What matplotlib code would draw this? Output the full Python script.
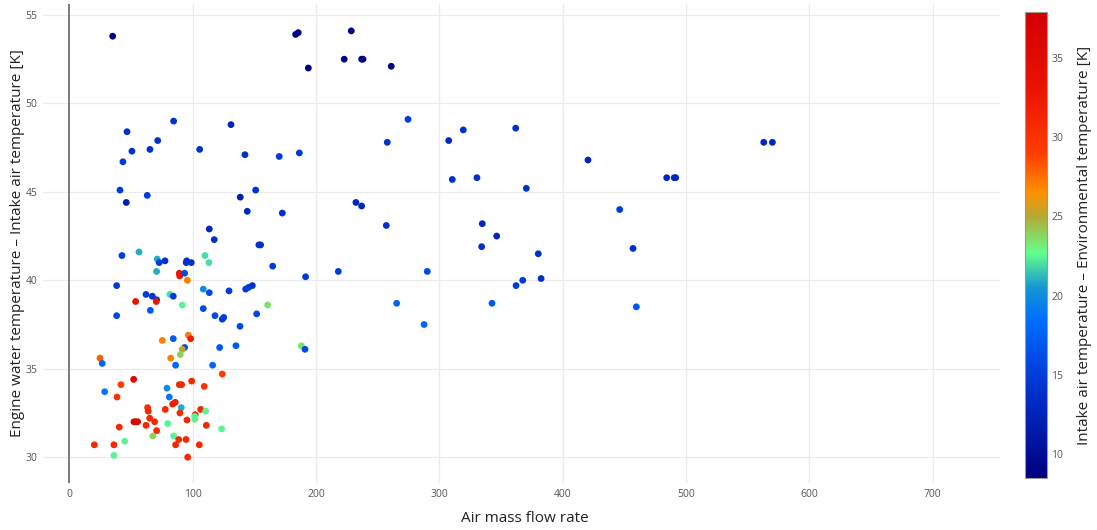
import numpy as np
import matplotlib
matplotlib.use('Agg')
import matplotlib.pyplot as plt
from matplotlib.colors import LinearSegmentedColormap

plt.rcParams['font.family'] = ['Open Sans', 'DejaVu Sans']

# Air mass flow rate
air_flow = [35.3, 84.7, 46.9, 71.8, 50.9, 65.5, 43.6, 105.8, 131.2, 142.5,
            41.2, 63.3, 46.3, 138.7, 151.2, 144.4, 113.6, 117.6, 153.8, 155.2,
            56.6, 42.8, 71.4, 73.0, 77.7, 95.3, 94.9, 99.0, 110.1, 113.3,
            70.9, 89.3, 89.6, 93.6, 95.8, 38.5, 62.3, 67.4, 70.9, 70.6,
            53.9, 81.7, 84.4, 91.7, 108.7, 113.6, 129.6, 143.1, 145.5, 148.5,
            152.0, 38.5, 65.8, 108.7, 118.2, 124.1, 125.3, 138.5, 96.6, 98.5,
            75.5, 84.4, 93.6, 122.0, 135.2, 25.0, 26.8, 91.7, 82.3, 90.1,
            86.3, 116.3, 124.1, 52.3, 42.0, 89.3, 91.2, 99.3, 109.5, 28.8,
            38.8, 79.3, 81.2, 83.9, 86.0, 63.6, 64.1, 77.9, 90.9, 89.8,
            102.2, 106.6, 110.7, 101.7, 101.9, 52.5, 54.0, 55.5, 65.3, 69.3,
            95.5, 62.3, 40.6, 70.9, 79.9, 111.2, 123.6, 67.9, 84.7, 88.8,
            94.7, 45.0, 20.4, 36.3, 86.3, 105.5, 36.3, 96.1,
            183.6, 185.7, 193.9, 228.7, 223.0, 237.1, 238.2, 261.1, 274.7, 257.9,
            307.7, 319.5, 362.0, 310.6, 330.6, 370.6, 170.3, 186.6, 172.8, 232.5,
            237.1, 257.1, 334.9, 346.6, 334.4, 165.0, 191.7, 218.2, 160.9, 188.2,
            191.2, 265.5, 290.3, 287.7, 380.3, 367.7, 362.3, 382.6, 342.8, 420.6,
            484.4, 491.7, 490.5, 563.1, 570.1, 446.3, 457.1, 459.8]

# Engine water temperature - intake air temperature [K]
dT_engine = [53.8, 49.0, 48.4, 47.9, 47.3, 47.4, 46.7, 47.4, 48.8, 47.1,
             45.1, 44.8, 44.4, 44.7, 45.1, 43.9, 42.9, 42.3, 42.0, 42.0,
             41.6, 41.4, 41.2, 41.0, 41.1, 41.1, 41.0, 41.0, 41.4, 41.0,
             40.5, 40.4, 40.25, 40.4, 40.0, 39.7, 39.2, 39.1, 38.9, 38.8,
             38.8, 39.2, 39.1, 38.6, 39.5, 39.3, 39.4, 39.5, 39.6, 39.7,
             38.1, 38.0, 38.3, 38.4, 38.0, 37.8, 37.9, 37.4, 36.9, 36.7,
             36.6, 36.7, 36.2, 36.2, 36.3, 35.6, 35.3, 36.1, 35.6, 35.8,
             35.2, 35.2, 34.7, 34.4, 34.1, 34.1, 34.1, 34.3, 34.0, 33.7,
             33.4, 33.9, 33.4, 33.0, 33.1, 32.8, 32.6, 32.7, 32.8, 32.5,
             32.4, 32.7, 32.6, 32.3, 32.15, 32.0, 32.0, 32.0, 32.2, 32.0,
             32.1, 31.8, 31.7, 31.5, 31.9, 31.8, 31.6, 31.2, 31.2, 31.0,
             31.0, 30.9, 30.7, 30.7, 30.7, 30.7, 30.1, 30.0,
             53.9, 54.0, 52.0, 54.1, 52.5, 52.5, 52.5, 52.1, 49.1, 47.8,
             47.9, 48.5, 48.6, 45.7, 45.8, 45.2, 47.0, 47.2, 43.8, 44.4,
             44.2, 43.1, 43.2, 42.5, 41.9, 40.8, 40.2, 40.5, 38.6, 36.3,
             36.1, 38.7, 40.5, 37.5, 41.5, 40.0, 39.7, 40.1, 38.7, 46.8,
             45.8, 45.8, 45.8, 47.8, 47.8, 44.0, 41.8, 38.5]

# Intake air temperature - environmental temperature [K]
dT_env = [9, 14, 14, 14, 14, 14, 15, 14, 13, 14,
          15, 15, 12, 12, 14, 13, 13, 14, 14, 14,
          21, 15, 21, 15, 14, 14, 14, 14, 22, 22,
          21, 33, 33, 16, 27, 15, 15, 14, 15, 33,
          33, 22, 15, 22.5, 20, 16, 15, 15, 15, 14,
          16, 16, 17, 16, 16, 15, 15, 16, 27, 32,
          27, 17, 16, 17, 17, 28, 18, 25, 27, 24,
          18, 18, 29, 36, 29, 31, 31, 31, 30, 19,
          30, 20, 19, 32, 32, 31, 31, 31, 21, 31,
          31, 31, 22.5, 22.5, 22.5, 36, 36, 36, 31, 31,
          31, 31, 31, 31, 22.5, 31, 22.5, 24, 22.5, 31,
          31, 22.5, 31, 31, 31, 31, 22.5, 31,
          9, 9, 9, 9, 9, 9, 9, 9.5, 15, 14,
          13, 14, 14, 14, 14, 14, 15, 15, 14, 13,
          13, 14, 13, 13, 14, 15, 15, 15, 23.5, 23.5,
          16, 18, 16, 18, 14, 15, 15, 14, 17, 13,
          13, 13, 13, 13, 13, 15, 14, 17]

cmin, cmax = 8.5, 37.9
anchors = [(8.5, '#000080'), (13.0, '#0028c0'), (15.0, '#003cdc'),
           (18.5, '#006eff'), (20.5, '#1496d2'), (22.7, '#64ff8c'),
           (25.0, '#b4aa32'), (26.5, '#ff9100'), (29.0, '#ff3c00'),
           (33.0, '#eb1400'), (37.9, '#d20000')]
cmap = LinearSegmentedColormap.from_list(
    'custom', [((v - cmin) / (cmax - cmin), col) for v, col in anchors])

fig = plt.figure(figsize=(10.97, 5.30), dpi=100)
ax = fig.add_axes([43/1097, 1 - 483/530, (1000 - 43)/1097, (483 - 4)/530])

ax.grid(True, color='#ebebeb', linewidth=0.9)
ax.set_axisbelow(True)
for s in ax.spines.values():
    s.set_visible(False)
ax.axvline(0, color='#666666', linewidth=1.2, zorder=1)

sc = ax.scatter(air_flow, dT_engine, c=dT_env, cmap=cmap, vmin=cmin, vmax=cmax,
                s=24, linewidths=0, zorder=3)

ax.set_xlim(-21.2, 754.6)
ax.set_ylim(28.54, 55.62)
ax.set_xticks(np.arange(0, 800, 100))
ax.set_yticks(np.arange(30, 60, 5))
ax.tick_params(length=0, labelsize=7.5, labelcolor='#555555', pad=4)

fig.text(525/1097, 1 - 518/530, 'Air mass flow rate', ha='center', va='center',
         fontsize=11, color='#222222')
fig.text(18/1097, 1 - 243/530, 'Engine water temperature – Intake air temperature [K]',
         ha='center', va='center', rotation=90, fontsize=11, color='#222222')

cax = fig.add_axes([1025/1097, 1 - 478/530, 22/1097, 466/530])
cb = fig.colorbar(sc, cax=cax)
cb.outline.set_edgecolor('#999999')
cb.outline.set_linewidth(0.8)
cb.set_ticks([10, 15, 20, 25, 30, 35])
cb.ax.tick_params(length=0, labelsize=7.5, labelcolor='#555555', pad=3)
fig.text(1085/1097, 1 - 245/530, 'Intake air temperature – Environmental temperature [K]',
         ha='center', va='center', rotation=90, fontsize=11, color='#222222')

fig.savefig('out.png', dpi=100)
